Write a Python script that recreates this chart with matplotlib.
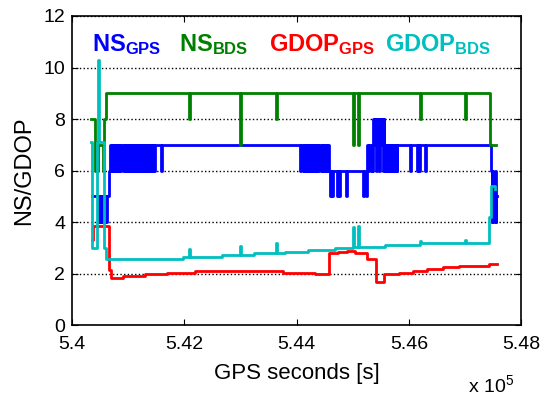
import numpy as np
import matplotlib
matplotlib.use('Agg')
import matplotlib.pyplot as plt

plt.rcParams['font.family'] = ['Liberation Sans', 'DejaVu Sans']
plt.rcParams['mathtext.fontset'] = 'custom'
plt.rcParams['mathtext.rm'] = 'Liberation Sans'
plt.rcParams['mathtext.bf'] = 'Liberation Sans:bold'

# number of GPS satellites (step breakpoints, value holds until next time)
ns_gps_t = [540356, 540463, 540478, 540492, 540506, 540520, 540534, 540548, 540562,
            540576, 540590, 540604, 540618, 540665, 540680, 540697, 540712, 540729,
            540744, 540761, 540776, 540793, 540808, 540825, 540840, 540857, 540872,
            540914, 540930, 540946, 540962, 540978, 540994, 541010, 541026, 541042,
            541058, 541074, 541090, 541106, 541122, 541138, 541154, 541170, 541186,
            541202, 541218, 541234, 541250, 541266, 541282, 541298, 541314, 541330,
            541346, 541362, 541378, 541394, 541410, 541426, 541442, 541458, 541474,
            541592, 541606,
            544063, 544075, 544110, 544125, 544140, 544155, 544170, 544185, 544200,
            544215, 544230, 544245, 544260, 544275, 544290, 544305, 544320, 544335,
            544350, 544365, 544380, 544395, 544430, 544445, 544460, 544475, 544490,
            544505, 544520, 544535, 544550, 544565, 544580,
            544600, 544620, 544640, 544655, 544717, 544730, 544760, 544776, 544880,
            544895, 545180, 545195, 545240, 545255,
            545262, 545280, 545295, 545323, 545338, 545353, 545369, 545385, 545400,
            545415, 545430, 545445, 545460, 545475, 545490, 545505, 545520, 545535,
            545550, 545565, 545578, 545595, 545610, 545625, 545640, 545655, 545670,
            545685, 545697, 545712, 545727, 545742, 545757, 545772, 545786, 545796,
            546023, 546035, 546142, 546155, 546180, 546192, 546291, 546303,
            547461, 547475, 547490, 547500, 547515, 547530, 547545, 547560, 547568]
ns_gps_v = [5, 4, 5, 4, 5, 4, 5, 4, 5,
            4, 5, 4, 5, 6, 7, 6, 7, 6,
            7, 6, 7, 6, 7, 6, 7, 6, 7,
            6, 7, 6, 7, 6, 7, 6, 7, 6,
            7, 6, 7, 6, 7, 6, 7, 6, 7,
            6, 7, 6, 7, 6, 7, 6, 7, 6,
            7, 6, 7, 6, 7, 6, 7, 6, 7,
            6, 7,
            6, 7, 6, 7, 6, 7, 6, 7, 6,
            7, 6, 7, 6, 7, 6, 7, 6, 7,
            6, 7, 6, 7, 6, 7, 6, 7, 6,
            7, 6, 7, 6, 7, 6,
            5, 6, 5, 6, 5, 6, 5, 6, 5,
            6, 5, 6, 5, 6,
            7, 6, 7, 6, 7, 6, 8, 7, 8,
            6, 8, 7, 8, 6, 8, 7, 8, 6,
            8, 7, 6, 7, 6, 7, 6, 7, 6,
            7, 6, 7, 6, 7, 6, 7, 6, 7,
            6, 7, 6, 7, 6, 7, 6, 7,
            6, 4, 6, 5, 4, 6, 4, 5, 5]

# number of BDS satellites
ns_bds_t = [540333, 540415, 540469, 540555, 540565, 540610, 542090, 542105, 542994,
            543009, 543630, 543645, 545013, 545028, 545102, 545117, 546201, 546216,
            547003, 547018, 547450, 547556]
ns_bds_v = [8, 6, 7, 6, 8, 9, 8, 9, 7,
            9, 8, 9, 7, 9, 7, 9, 8, 9,
            8, 9, 7, 7]

# GDOP, GPS only
gdop_gps_t = [540365, 540380, 540665, 540690, 540914, 541301, 541688, 542192, 543765,
              544330, 544580, 544745, 544895, 545043, 545252, 545417, 545565, 545833,
              546082, 546321, 546617, 546902, 547436, 547568]
gdop_gps_v = [3.3, 3.86, 2.14, 1.81, 1.91, 1.98, 2.03, 2.1, 2.03,
              1.97, 2.81, 2.85, 2.89, 2.81, 2.55, 1.68, 1.98, 2.03,
              2.11, 2.17, 2.24, 2.3, 2.37, 2.37]

# GDOP, BDS only
gdop_bds_t = [540339, 540356, 540445, 540460, 540475, 540570, 540600, 541978, 542090,
              542105, 542668, 542994, 543009, 543250, 543630, 543645, 543796, 544211,
              544687, 545013, 545028, 545102, 545117, 545578, 546201, 546216, 547003,
              547018, 547436, 547470, 547538]
gdop_bds_v = [7.1, 3.0, 7.1, 10.3, 7.1, 3.0, 2.58, 2.65, 2.95,
              2.65, 2.72, 3.07, 2.72, 2.78, 3.2, 2.78, 2.85, 2.91,
              2.98, 3.79, 3.04, 3.85, 3.04, 3.1, 3.25, 3.17, 3.3,
              3.17, 4.2, 5.4, 5.3]

fig = plt.figure(figsize=(5.47, 3.98), dpi=100)
ax = fig.add_axes([0.1316, 0.1834, 0.821, 0.7764])

series = [(ns_gps_t, ns_gps_v, '#0000FF'),
          (ns_bds_t, ns_bds_v, '#008000'),
          (gdop_gps_t, gdop_gps_v, '#FF0000'),
          (gdop_bds_t, gdop_bds_v, '#00BFBF')]
for t, v, c in series:
    ax.plot(np.array(t) / 1e5, v, color=c, lw=2, drawstyle='steps-post', zorder=3)

ax.set_xlim(5.40, 5.48)
ax.set_ylim(0, 12)
ax.set_xticks([5.40, 5.42, 5.44, 5.46, 5.48])
ax.set_xticklabels(['5.4', '5.42', '5.44', '5.46', '5.48'])
ax.set_yticks(range(0, 13, 2))
ax.tick_params(direction='in', top=True, right=True, labelsize=14, length=4)
ax.tick_params(axis='x', pad=8)
ax.tick_params(axis='y', pad=5)
for sp in ax.spines.values():
    sp.set_linewidth(1.2)
ax.yaxis.grid(True, linestyle=':', color='black', lw=1)
ax.set_xlabel('GPS seconds [s]', fontsize=16, labelpad=7)
ax.set_ylabel('NS/GDOP', fontsize=17, labelpad=6)

labels = [(5.4035, r'$\mathbf{NS_{GPS}}$', '#0000FF'),
          (5.4191, r'$\mathbf{NS_{BDS}}$', '#008000'),
          (5.4351, r'$\mathbf{GDOP_{GPS}}$', '#FF0000'),
          (5.4558, r'$\mathbf{GDOP_{BDS}}$', '#00BFBF')]
for x, s, c in labels:
    ax.text(x, 10.64, s, color=c, fontsize=17, va='baseline', ha='left')

fig.text(0.856, 0.0126, r'x 10$^5$', fontsize=14, va='baseline')

plt.savefig('out.png')
